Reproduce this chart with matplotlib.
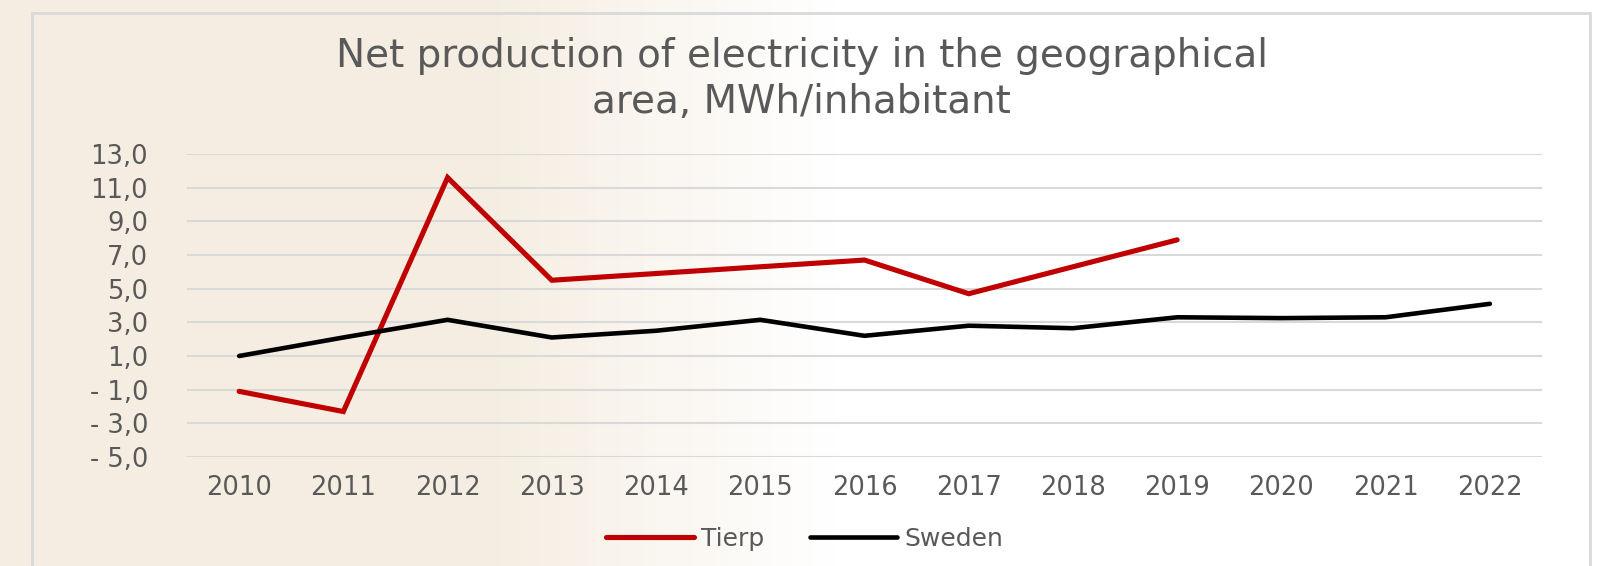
import numpy as np
import matplotlib.pyplot as plt
from matplotlib.patches import Rectangle
from matplotlib.ticker import FuncFormatter

years = ["2010", "2011", "2012", "2013", "2014", "2015", "2016",
         "2017", "2018", "2019", "2020", "2021", "2022"]
tierp = [-1.1, -2.3, 11.6, 5.5, 5.9, 6.3, 6.7, 4.7, 6.3, 7.9]
sweden = [1.0, 2.1, 3.15, 2.1, 2.5, 3.15, 2.2, 2.8, 2.65, 3.3, 3.25, 3.3, 4.1]
yticks = np.arange(-5, 14, 2)

W, H = 1603, 566
fig = plt.figure(figsize=(W / 100, H / 100), dpi=100)

# background: beige on the left fading to white
bg = fig.add_axes([0, 0, 1, 1], zorder=-10)
g = np.linspace(0, 1, 400)
fade = np.clip((g - 0.30) / 0.22, 0, 1)
beige = np.array([245, 237, 225]) / 255
white = np.array([1.0, 1.0, 1.0])
row = beige[None, :] * (1 - fade[:, None]) + white[None, :] * fade[:, None]
bg.imshow(row[None, :, :], aspect="auto", extent=[0, 1, 0, 1])
bg.set_xlim(0, 1)
bg.set_ylim(0, 1)
bg.axis("off")

# chart border
fig.patches.append(Rectangle((32 / W, -0.05), (1590 - 32) / W, (H - 13) / H + 0.05,
                             transform=fig.transFigure, fill=False,
                             edgecolor="#D9D9D9", linewidth=2))

ax = fig.add_axes([187 / W, 1 - 457 / H, (1542 - 187) / W, (457 - 154) / H])
ax.patch.set_alpha(0)
x = np.arange(len(years))
ax.plot(x[:len(tierp)], tierp, color="#C00000", lw=3.7, label="Tierp",
        solid_capstyle="round", solid_joinstyle="miter", zorder=3)
ax.plot(x, sweden, color="black", lw=3.3, label="Sweden",
        solid_capstyle="round", solid_joinstyle="miter", zorder=3)

ax.set_xlim(-0.5, len(years) - 0.5)
ax.set_ylim(-5, 13)
ax.set_yticks(yticks)
ax.yaxis.set_major_formatter(FuncFormatter(
    lambda v, p: f"- {abs(v):.1f}".replace(".", ",") if v < 0 else f"{v:.1f}".replace(".", ",")))
ax.set_xticks(x)
ax.set_xticklabels(years)
ax.grid(axis="y", color="#D9D9D9", lw=1.5)
for s in ax.spines.values():
    s.set_visible(False)
ax.tick_params(length=0, labelsize=18.5, labelcolor="#595959")
ax.tick_params(axis="x", pad=13)
ax.tick_params(axis="y", pad=28)

fig.text(0.5, 1 - 79 / H, "Net production of electricity in the geographical\narea, MWh/inhabitant",
         ha="center", va="center", fontsize=28, color="#595959", linespacing=1.25)

leg = fig.legend(loc="center", bbox_to_anchor=(805 / W, 1 - 539 / H), ncol=2,
                 frameon=False, fontsize=18, handlelength=3.5, columnspacing=1.8,
                 handletextpad=0.3)
for t in leg.get_texts():
    t.set_color("#595959")

fig.savefig("out.png", dpi=100)
